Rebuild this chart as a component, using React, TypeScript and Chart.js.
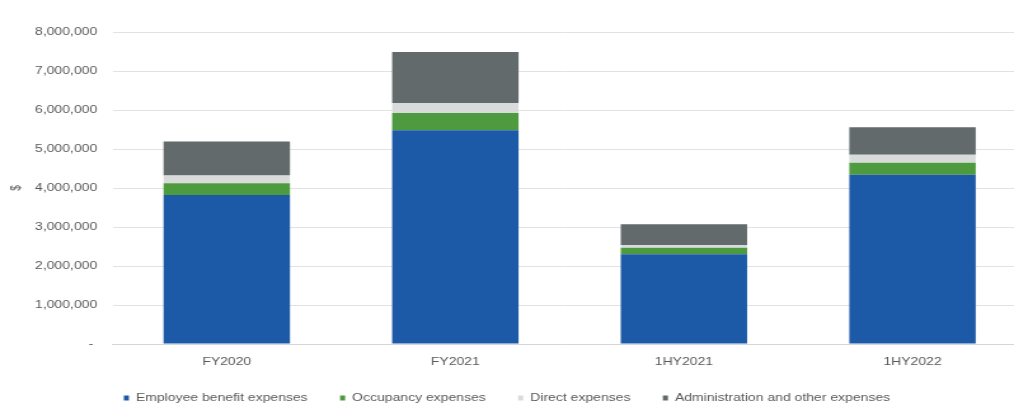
import React, { useEffect, useRef } from "react";
import { Chart, registerables } from "chart.js";

Chart.register(...registerables);

// Reporting periods shown on the horizontal axis
const categories = ["FY2020", "FY2021", "1HY2021", "1HY2022"];

// Expense components per period ($)
const employeeBenefit = [3820000, 5480000, 2300000, 4340000];
const occupancy = [300000, 440000, 170000, 310000];
const directExpenses = [200000, 260000, 70000, 200000];
const adminOther = [870000, 1310000, 530000, 710000];

const seriesNames = [
  "Employee benefit expenses",
  "Occupancy expenses",
  "Direct expenses",
  "Administration and other expenses",
];

const yTicks = [0, 1000000, 2000000, 3000000, 4000000, 5000000, 6000000, 7000000, 8000000];

// Page size and the horizontal stretch applied to the drawn canvas
const PAGE_W = 1014;
const PAGE_H = 405;
const INNER_W = 798;
const STRETCH = PAGE_W / INNER_W;

const FONT = "'Liberation Sans', Arial, sans-serif";
const TEXT = "#595959";

export default function App() {
  const canvasRef = useRef<HTMLCanvasElement | null>(null);

  useEffect(() => {
    if (!canvasRef.current) return;
    const chart = new Chart(canvasRef.current, {
      type: "bar",
      data: {
        labels: categories.map((_, i) => i),
        datasets: [
          { label: seriesNames[0], data: employeeBenefit, backgroundColor: "#1c5aa7" },
          { label: seriesNames[1], data: occupancy, backgroundColor: "#4e9a3f" },
          { label: seriesNames[2], data: directExpenses, backgroundColor: "#d9dbdb" },
          { label: seriesNames[3], data: adminOther, backgroundColor: "#626a6b" },
        ],
      },
      options: {
        animation: false,
        responsive: true,
        maintainAspectRatio: false,
        events: [],
        datasets: {
          bar: { categoryPercentage: 1, barPercentage: 0.553, borderWidth: 0 },
        },
        layout: { padding: { top: 32, left: 0, right: 0, bottom: 0 } },
        scales: {
          x: {
            type: "linear",
            stacked: true,
            offset: false,
            min: -0.5,
            max: 3.444,
            afterBuildTicks: (axis: any) => {
              axis.ticks = categories.map((_, i) => ({ value: i }));
            },
            afterFit: (axis: any) => {
              axis.height = 23;
            },
            grid: { display: false, drawTicks: false, offset: false },
            border: { display: true, color: "#d6d6d6", width: 1 },
            ticks: {
              autoSkip: false,
              maxRotation: 0,
              padding: 11,
              color: TEXT,
              font: { family: FONT, size: 11 },
              callback: (v: any) => categories[Math.round(Number(v))] ?? "",
            },
          },
          y: {
            stacked: true,
            min: 0,
            max: 8000000,
            afterBuildTicks: (axis: any) => {
              axis.ticks = yTicks.map((v) => ({ value: v }));
            },
            afterFit: (axis: any) => {
              axis.width = 88.5;
            },
            grid: { color: "#e2e2e2", lineWidth: 1, drawTicks: false },
            border: { display: false },
            title: {
              display: true,
              text: "$",
              color: TEXT,
              font: { family: FONT, size: 10 },
              padding: { top: 7, bottom: 0 },
            },
            ticks: {
              padding: 12,
              color: TEXT,
              font: { family: FONT, size: 11 },
              callback: (v: any) => (Number(v) === 0 ? "- " : Number(v).toLocaleString("en-US")),
            },
          },
        },
        plugins: {
          tooltip: { enabled: false },
          legend: {
            position: "bottom",
            align: "center",
            maxHeight: 38,
            labels: {
              boxWidth: 4,
              boxHeight: 5,
              padding: 25.5,
              color: TEXT,
              font: { family: FONT, size: 11 },
            },
          },
        },
      } as any,
    });
    return () => chart.destroy();
  }, []);

  return (
    <div
      style={{
        position: "fixed",
        left: 0,
        top: 0,
        width: PAGE_W,
        height: PAGE_H,
        overflow: "hidden",
        background: "#ffffff",
      }}
    >
      <div
        style={{
          width: INNER_W,
          height: PAGE_H,
          transform: `scaleX(${STRETCH})`,
          transformOrigin: "0 0",
        }}
      >
        <canvas ref={canvasRef} />
      </div>
    </div>
  );
}
